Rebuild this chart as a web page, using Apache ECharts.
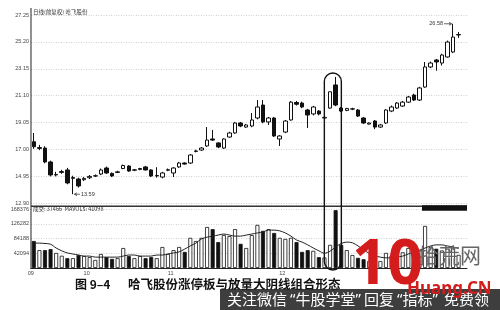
<!DOCTYPE html>
<html><head><meta charset="utf-8">
<script src="https://cdn.jsdelivr.net/npm/echarts@6/dist/echarts.min.js"></script>
<style>html,body{margin:0;padding:0;background:#fff}#c{width:500px;height:310px}</style>
</head><body><div id="c"></div>
<script>
// ---- data ----
const categories = Array.from({length: 77}, (_, i) => 'D' + (i + 1));
const tickIndex = [0, 10, 25, 45];
const tickLabels = ['09', '10', '11', '12'];
const opens  = [17.59,17.08,17.11,16.05,15.06,15.25,15.44,14.80,14.75,14.70,
                14.85,14.98,15.13,15.59,15.18,15.25,15.55,15.74,15.42,15.48,
                15.67,15.44,14.98,14.90,15.42,15.21,15.67,15.97,15.97,16.85,
                16.96,17.27,17.80,17.50,17.11,17.95,18.26,19.02,18.71,18.79,
                19.40,20.39,19.10,19.40,17.80,18.33,19.25,20.58,20.54,20.01,
                19.71,19.93,19.40,20.16,21.92,20.16,19.98,20.08,20.01,19.40,
                18.94,19.17,18.71,19.02,19.93,20.16,20.31,20.61,21.15,20.77,
                21.76,23.29,23.82,23.59,24.05,24.43,25.73];
const closes = [17.21,17.15,16.05,15.06,15.10,15.32,14.45,14.86,14.22,14.80,
                14.95,15.00,15.44,15.21,14.98,15.30,15.78,15.36,15.45,15.55,
                15.44,14.98,15.02,15.21,15.46,15.59,15.97,15.89,16.58,16.89,
                17.11,17.72,17.72,17.19,17.80,18.26,19.02,18.79,18.87,19.25,
                20.24,19.10,19.40,18.03,18.03,19.17,20.61,20.45,20.24,19.63,
                20.24,19.71,19.45,21.40,20.39,19.93,20.12,20.10,19.55,19.02,
                19.02,18.71,18.87,20.01,20.24,20.54,20.61,21.00,20.77,21.69,
                23.29,23.59,23.67,24.20,25.19,25.57,25.76];
const lows   = [17.05,16.95,15.95,14.95,14.95,15.15,14.35,13.59,14.10,14.60,
                14.75,14.90,15.05,15.15,14.90,15.20,15.50,15.30,15.35,15.42,
                15.40,14.90,14.85,14.80,15.35,14.90,15.60,15.85,15.90,16.78,
                16.90,17.20,17.65,17.10,17.05,17.90,18.20,18.70,18.65,18.70,
                19.30,19.00,18.87,17.95,17.27,18.25,19.20,20.35,20.15,18.64,
                19.60,19.60,19.30,20.10,20.30,19.85,19.92,20.00,19.48,18.95,
                18.90,18.55,18.65,18.95,19.85,20.10,20.25,20.55,20.70,20.70,
                21.70,23.20,23.00,23.40,24.00,24.35,25.50];
const highs  = [18.26,17.35,17.25,16.15,15.30,15.45,15.60,15.00,14.85,14.90,
                15.05,15.10,15.55,15.70,15.25,15.38,15.85,15.80,15.52,15.60,
                15.75,15.50,15.65,15.30,15.55,15.65,16.05,16.02,16.65,16.98,
                17.18,18.71,18.49,17.55,17.85,18.35,19.10,19.10,18.95,19.78,
                20.77,20.77,19.48,19.48,18.10,19.25,20.70,20.70,20.65,20.10,
                20.32,20.00,19.52,21.40,22.53,20.24,20.18,20.18,20.08,19.48,
                19.06,19.25,18.95,20.08,20.35,20.62,20.70,21.08,21.25,21.78,
                23.67,23.70,23.90,24.30,25.30,26.58,25.95];
const volumes = [77000,51000,51000,54000,43000,35000,28000,28000,37000,34000,
                 31000,23000,40000,31000,26000,28000,57000,34000,28000,34000,
                 28000,31000,28000,60000,40000,51000,60000,46000,86000,77000,
                 86000,117000,111000,74000,94000,91000,111000,69000,57000,94000,
                 123000,106000,111000,100000,86000,83000,86000,74000,46000,51000,
                 49000,31000,30000,66000,165000,66000,51000,37000,29000,25000,
                 20000,25000,20000,43000,35000,30000,45000,57000,40000,50000,
                 120000,60000,55000,50000,55000,60000,37466];
const mavol = [71000,71000,70000,68000,57000,49000,43000,40000,37000,34000,
               34000,31000,31000,31000,31000,31000,34000,37000,37000,34000,
               34000,34000,37000,37000,40000,43000,46000,54000,63000,71000,
               83000,88000,91000,94000,97000,94000,91000,91000,94000,97000,
               100000,103000,108000,108000,106000,100000,91000,80000,74000,66000,
               57000,49000,42000,48000,60000,70000,74000,72000,63000,52000,
               42000,35000,31000,29000,29000,31000,34000,40000,46000,51000,
               57000,63000,66000,66000,63000,60000,56000];
const priceMin = 12.90, priceMax = 27.25, priceStep = 2.05;
const volMin = 0, volMax = 168376, volStep = 42094;
const lowMark = {index: 7, value: 13.59};
const highMark = {index: 75, value: 26.58};
const circled = [53, 54];

// ---- chart ----
const chart = echarts.init(document.getElementById('c'), null, {renderer: 'canvas'});
const numFont = 'Liberation Sans';
const candleData = opens.map((o, i) => [o, closes[i], lows[i], highs[i]]);
const volData = volumes.map((v, i) => {
  const up = closes[i] >= opens[i];
  return {value: v, itemStyle: {color: up ? '#fff' : '#111', borderColor: '#111', borderWidth: 0.8}};
});

chart.setOption({
  animation: false,
  backgroundColor: '#fff',
  grid: [
    {left: 31, top: 15, width: 436, height: 188.3},
    {left: 31, top: 209, width: 436, height: 59}
  ],
  xAxis: [
    {type: 'category', gridIndex: 0, data: categories, max: categories.length,
     axisLine: {show: false}, axisTick: {show: false}, axisLabel: {show: false}, splitLine: {show: false}},
    {type: 'category', gridIndex: 1, data: categories, max: categories.length,
     axisLine: {lineStyle: {color: '#222', width: 1}}, axisTick: {show: false},
     axisLabel: {fontSize: 5.5, color: '#444', fontFamily: numFont, margin: 2, align: 'right',
       interval: (idx) => tickIndex.includes(idx),
       formatter: (v, idx) => { const k = tickIndex.indexOf(idx); return k >= 0 ? tickLabels[k] : ''; }},
     splitLine: {show: false}}
  ],
  yAxis: [
    {type: 'value', gridIndex: 0, min: priceMin, max: priceMax, interval: priceStep,
     axisLine: {show: false}, axisTick: {show: false},
     axisLabel: {fontSize: 5.5, color: '#444', fontFamily: numFont, margin: 2, formatter: v => v.toFixed(2)},
     splitLine: {lineStyle: {color: '#c4c4c4', type: [1, 1.5], width: 0.8}}},
    {type: 'value', gridIndex: 1, min: volMin, max: volMax, interval: volStep,
     axisLine: {show: false}, axisTick: {show: false},
     axisLabel: {fontSize: 5.5, color: '#444', fontFamily: numFont, margin: 2, formatter: v => v === 0 ? '' : String(v)},
     splitLine: {lineStyle: {color: '#c4c4c4', type: [1, 1.5], width: 0.8}}}
  ],
  series: [
    {type: 'candlestick', xAxisIndex: 0, yAxisIndex: 0, data: candleData, barWidth: 4,
     itemStyle: {color: '#fff', color0: '#111', borderColor: '#111', borderColor0: '#111', borderColorDoji: '#111', borderWidth: 1}},
    {type: 'bar', xAxisIndex: 1, yAxisIndex: 1, data: volData, barWidth: 4},
    {type: 'line', xAxisIndex: 1, yAxisIndex: 1, data: mavol, smooth: 0.3, symbol: 'none',
     lineStyle: {color: '#222', width: 1}}
  ]
});

// ---- annotations positioned through the chart's own scales ----
const P = (g, i, v) => chart.convertToPixel({gridIndex: g}, [i, v]);
const a = P(0, circled[0], 22.83), b = P(0, circled[1], 22.83);
const cx = (a[0] + b[0]) / 2, topY = a[1];
const botY = P(1, circled[0], 0)[1] + 2;
const lo = P(0, lowMark.index, lowMark.value);
const hi = P(0, highMark.index, highMark.value);
const gLeft = P(0, 0, priceMax)[0] - 2.8;
const gTopPx = P(0, 0, priceMax)[1];
const sepY = (P(0, 0, priceMin)[1] + P(1, 0, volMax)[1]) / 2;
const baseY = P(1, 0, 0)[1];
const gRight = gLeft + 436;
const tiny = {fontSize: 5.5, fill: '#333', fontFamily: 'Noto Sans CJK SC'};
const wm = (x, text) => ({type: 'text', x: x, y: 299.5, z: 81,
  style: {text: text, fontSize: 15, fill: '#fff', fontFamily: 'Noto Sans CJK SC', verticalAlign: 'middle',
          rich: {q: {fontSize: 15, fill: '#fff', fontFamily: 'Noto Sans', verticalAlign: 'middle'}}}});

chart.setOption({
  graphic: [
    {type: 'line', shape: {x1: gLeft, y1: gTopPx - 7, x2: gLeft, y2: baseY + 1}, style: {stroke: '#222', lineWidth: 1}, z: 50},
    {type: 'line', shape: {x1: gLeft, y1: sepY, x2: gRight, y2: sepY}, style: {stroke: '#333', lineWidth: 1.5}, z: 50},
    {type: 'rect', shape: {x: gRight - 45, y: sepY - 1, width: 45, height: 5.5}, style: {fill: '#111'}, z: 50},
    {type: 'text', x: gLeft + 2, y: gTopPx - 3, style: Object.assign({text: '日线(前复权) 哈飞股份', verticalAlign: 'middle'}, tiny), z: 50},
    {type: 'text', x: gLeft + 2, y: sepY + 3, style: Object.assign({text: '成交: 37466  MAVOL5: 41098', verticalAlign: 'middle'}, tiny), z: 50},
    // circled pair
    {type: 'rect', shape: {x: cx - 8.5, y: topY, width: 17, height: botY - topY, r: 8.5},
     style: {fill: 'none', stroke: '#111', lineWidth: 1.4}, z: 60},
    // low marker
    {type: 'polyline', shape: {points: [[lo[0] + 4, lo[1] - 1.5], [lo[0] + 1.5, lo[1]], [lo[0] + 4, lo[1] + 1.5]]}, style: {fill: 'none', stroke: '#222', lineWidth: 0.7}, z: 60},
    {type: 'line', shape: {x1: lo[0] + 1.5, y1: lo[1], x2: lo[0] + 7, y2: lo[1]}, style: {stroke: '#222', lineWidth: 0.7}, z: 60},
    {type: 'text', x: lo[0] + 8, y: lo[1], style: {text: lowMark.value.toFixed(2), fontSize: 5.5, fill: '#333', fontFamily: numFont, verticalAlign: 'middle'}, z: 60},
    // high marker
    {type: 'line', shape: {x1: hi[0] - 9, y1: hi[1], x2: hi[0] - 1.5, y2: hi[1]}, style: {stroke: '#222', lineWidth: 0.7}, z: 60},
    {type: 'polyline', shape: {points: [[hi[0] - 4, hi[1] - 1.5], [hi[0] - 1.5, hi[1]], [hi[0] - 4, hi[1] + 1.5]]}, style: {fill: 'none', stroke: '#222', lineWidth: 0.7}, z: 60},
    {type: 'text', x: hi[0] - 10, y: hi[1], style: {text: highMark.value.toFixed(2), fontSize: 5.5, fill: '#333', fontFamily: numFont, align: 'right', verticalAlign: 'middle'}, z: 60},
    // caption
    {type: 'text', x: 75, y: 284, style: {text: '图 9–4', fontSize: 12, fontWeight: 'bold', fill: '#111', fontFamily: 'Noto Sans CJK SC', verticalAlign: 'middle'}, z: 70},
    {type: 'text', x: 128, y: 284, style: {text: '哈飞股份涨停板与放量大阴线组合形态', fontSize: 12.5, fontWeight: 'bold', fill: '#111', fontFamily: 'Noto Sans CJK SC', verticalAlign: 'middle'}, z: 70},
    // watermark
    {type: 'text', x: 418, y: 255, style: {text: '拾荒网', fontSize: 21, fill: '#666', fontFamily: 'Noto Sans CJK SC', verticalAlign: 'middle'}, z: 80},
    {type: 'rect', shape: {x: 220, y: 289, width: 280, height: 21}, style: {fill: 'rgba(35,35,35,0.88)'}, z: 80},
    wm(227, '关注微信'),
    wm(290, '{q|“}牛股学堂{q|”}'),
    wm(364, '回复'),
    wm(397, '{q|“}指标{q|”}'),
    wm(444, '免费领'),
    {type: 'text', x: 352, y: 266, style: {text: '10', fontSize: 62, fontWeight: 'bold', fill: '#d41c1c', fontFamily: 'Noto Sans', verticalAlign: 'middle'}, z: 82},
    {type: 'text', x: 407, y: 289, style: {text: 'Huang.CN', fontSize: 17, fontWeight: 'bold', fill: '#d41c1c', fontFamily: 'Noto Sans', verticalAlign: 'middle'}, z: 82}
  ]
});
</script></body></html>
